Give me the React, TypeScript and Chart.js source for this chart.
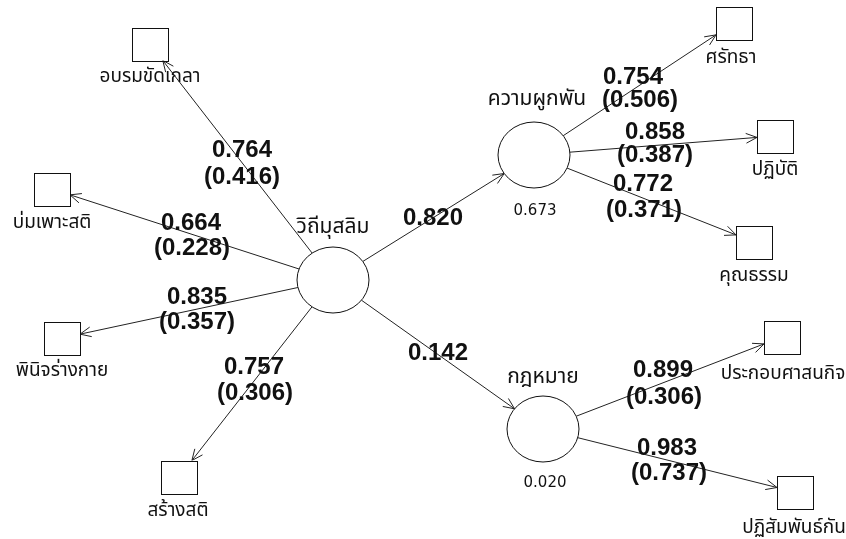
import { useEffect, useRef } from "react";
import { Chart, registerables } from "chart.js";

Chart.register(...registerables);

// ---- data ----
const latentNames = ["วิถีมุสลิม", "ความผูกพัน", "กฎหมาย"];
const latentR2 = ["", "0.673", "0.020"];
const indicatorNames = [
  "อบรมขัดเกลา",
  "บ่มเพาะสติ",
  "พินิจร่างกาย",
  "สร้างสติ",
  "ศรัทธา",
  "ปฏิบัติ",
  "คุณธรรม",
  "ประกอบศาสนกิจ",
  "ปฏิสัมพันธ์กัน",
];
// path: from latent index -> to ("L" latent / "I" indicator) index
const pathFrom = [0, 0, 0, 0, 0, 0, 1, 1, 1, 2, 2];
const pathToKind = ["I", "I", "I", "I", "L", "L", "I", "I", "I", "I", "I"];
const pathTo = [0, 1, 2, 3, 1, 2, 4, 5, 6, 7, 8];
const pathCoef = ["0.764", "0.664", "0.835", "0.757", "0.820", "0.142", "0.754", "0.858", "0.772", "0.899", "0.983"];
const pathParen = ["0.416", "0.228", "0.357", "0.306", "", "", "0.506", "0.387", "0.371", "0.306", "0.737"];

// ---- layout (diagram coordinates) ----
const latentX = [333, 534, 543];
const latentY = [280, 155, 429];
const latentNameX = [333, 537, 543];
const latentNameY = [229, 101, 379];
const latentR2X = [0, 535, 545];
const latentR2Y = [0, 211, 483];
const indicatorX = [150, 52, 62, 179, 734, 775, 754, 782, 795];
const indicatorY = [44, 189, 338, 477, 23, 136, 242, 337, 492];
const indicatorLabelX = [150, 52, 62, 178, 731, 775, 754, 783, 794];
const indicatorLabelY = [78, 224, 372, 512, 59, 171, 277, 375, 529];
const coefX = [242, 191, 197, 254, 433, 438, 633, 655, 643, 663, 667];
const coefY = [150, 223, 297, 367, 218, 353, 77, 132, 184, 370, 448];
const parenX = [242, 192, 197, 255, 0, 0, 640, 655, 644, 664, 669];
const parenY = [177, 248, 322, 393, 0, 0, 100, 155, 210, 397, 473];

const W = 846;
const H = 539;
const RX = 36;
const RY = 33;
const SQW = 18;
const SQH = 16.5;
const THAI = "Tahoma, 'Noto Sans Thai', 'Noto Sans', 'DejaVu Sans', sans-serif";

const diagramPlugin = {
  id: "pathDiagram",
  afterDatasetsDraw(chart: any) {
    const ctx = chart.ctx as CanvasRenderingContext2D;
    const xs = chart.scales.x;
    const ys = chart.scales.y;
    const px = (v: number) => xs.getPixelForValue(v);
    const py = (v: number) => ys.getPixelForValue(v);
    const lat = chart.getDatasetMeta(0).data;
    const ind = chart.getDatasetMeta(1).data;

    ctx.save();
    ctx.strokeStyle = "#222";
    ctx.lineWidth = 1;

    const ellipseT = (dx: number, dy: number) =>
      1 / Math.sqrt((dx / RX) ** 2 + (dy / RY) ** 2);
    const rectT = (dx: number, dy: number) =>
      Math.min(dx === 0 ? Infinity : SQW / Math.abs(dx), dy === 0 ? Infinity : SQH / Math.abs(dy));

    const arrowHead = (x: number, y: number, ux: number, uy: number) => {
      const len = 12;
      const a = (24 * Math.PI) / 180;
      const bx = -ux;
      const by = -uy;
      for (const s of [a, -a]) {
        const c = Math.cos(s);
        const sn = Math.sin(s);
        const rx = bx * c - by * sn;
        const ry = bx * sn + by * c;
        ctx.beginPath();
        ctx.moveTo(x, y);
        ctx.lineTo(x + rx * len, y + ry * len);
        ctx.stroke();
      }
    };

    // paths
    for (let i = 0; i < pathFrom.length; i++) {
      const s = lat[pathFrom[i]];
      const t = pathToKind[i] === "L" ? lat[pathTo[i]] : ind[pathTo[i]];
      const dx = t.x - s.x;
      const dy = t.y - s.y;
      const d = Math.hypot(dx, dy);
      const ux = dx / d;
      const uy = dy / d;
      const ts = ellipseT(ux, uy);
      const tt = pathToKind[i] === "L" ? ellipseT(ux, uy) : rectT(ux, uy);
      const x0 = s.x + ux * ts;
      const y0 = s.y + uy * ts;
      const x1 = t.x - ux * tt;
      const y1 = t.y - uy * tt;
      ctx.beginPath();
      ctx.moveTo(x0, y0);
      ctx.lineTo(x1, y1);
      ctx.stroke();
      arrowHead(x1, y1, ux, uy);
    }

    // latent ellipses
    ctx.strokeStyle = "#111";
    for (let i = 0; i < lat.length; i++) {
      ctx.beginPath();
      ctx.ellipse(lat[i].x, lat[i].y, RX, RY, 0, 0, Math.PI * 2);
      ctx.fillStyle = "#fff";
      ctx.fill();
      ctx.stroke();
    }
    // indicator squares
    for (let i = 0; i < ind.length; i++) {
      ctx.fillStyle = "#fff";
      ctx.fillRect(ind[i].x - SQW, ind[i].y - SQH, SQW * 2, SQH * 2);
      ctx.strokeRect(Math.round(ind[i].x - SQW) + 0.5, Math.round(ind[i].y - SQH) + 0.5, SQW * 2, SQH * 2);
    }

    ctx.fillStyle = "#111";
    ctx.textAlign = "center";
    ctx.textBaseline = "middle";

    // latent names
    for (let i = 0; i < latentNames.length; i++) {
      ctx.font = "21px " + THAI;
      ctx.fillText(latentNames[i], px(latentNameX[i]), py(latentNameY[i]));
      if (latentR2[i]) {
        ctx.font = "15px 'DejaVu Sans', sans-serif";
        ctx.fillText(latentR2[i], px(latentR2X[i]), py(latentR2Y[i]));
      }
    }
    // indicator names
    ctx.font = "19px " + THAI;
    for (let i = 0; i < indicatorNames.length; i++) {
      ctx.fillText(indicatorNames[i], px(indicatorLabelX[i]), py(indicatorLabelY[i]));
    }
    // coefficients
    ctx.font = "bold 24px 'Liberation Sans', Arial, sans-serif";
    for (let i = 0; i < pathCoef.length; i++) {
      ctx.fillText(pathCoef[i], px(coefX[i]), py(coefY[i]));
      if (pathParen[i]) {
        ctx.fillText("(" + pathParen[i] + ")", px(parenX[i]), py(parenY[i]));
      }
    }
    ctx.restore();
  },
};

export default function App() {
  const ref = useRef<HTMLCanvasElement | null>(null);
  useEffect(() => {
    document.body.style.margin = "0";
    document.body.style.background = "#fff";
    const canvas = ref.current!;
    const chart = new Chart(canvas, {
      type: "scatter",
      data: {
        datasets: [
          {
            label: "latent",
            data: latentX.map((x, i) => ({ x, y: latentY[i] })),
            pointRadius: 0,
            pointHoverRadius: 0,
          },
          {
            label: "indicator",
            data: indicatorX.map((x, i) => ({ x, y: indicatorY[i] })),
            pointRadius: 0,
            pointHoverRadius: 0,
          },
        ],
      },
      options: {
        animation: false,
        responsive: false,
        maintainAspectRatio: false,
        layout: { padding: 0 },
        events: [],
        plugins: { legend: { display: false }, tooltip: { enabled: false } },
        scales: {
          x: { type: "linear", min: 0, max: W, display: false },
          y: { type: "linear", min: 0, max: H, reverse: true, display: false },
        },
      },
      plugins: [diagramPlugin],
    });
    return () => chart.destroy();
  }, []);
  return (
    <div style={{ width: W, height: H, background: "#fff" }}>
      <canvas ref={ref} width={W} height={H} style={{ display: "block" }} />
    </div>
  );
}
